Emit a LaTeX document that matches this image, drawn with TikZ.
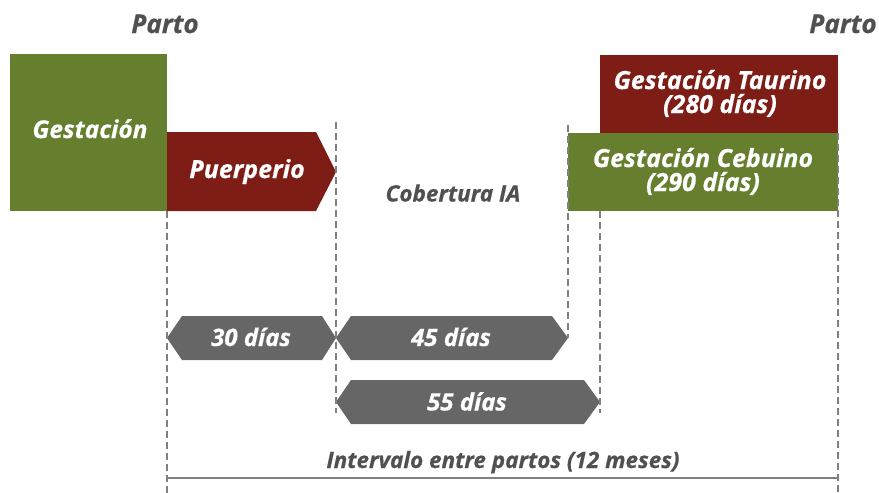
\documentclass[tikz,border=0pt]{standalone}
\usepackage{fontspec}
\setmainfont{Open Sans}[BoldItalicFeatures={FakeBold=0.6}]
\definecolor{cgreen}{HTML}{667F2F}
\definecolor{cred}{HTML}{7E1C16}
\definecolor{cgray}{HTML}{666666}
\definecolor{ctext}{HTML}{505050}
\definecolor{cline}{HTML}{808080}
\tikzset{
  lbl/.style={font=\bfseries\itshape\fontsize{#1}{24}\selectfont, inner sep=0pt, align=center, anchor=base},
  wlbl/.style={lbl=#1, text=white},
  glbl/.style={lbl=#1, text=ctext},
  guide/.style={draw=cline, line width=1.3pt, dash pattern=on 7pt off 4pt},
}
\begin{document}
\begin{tikzpicture}[x=1pt,y=-1pt]
\useasboundingbox (0,0) rectangle (879,493);
% boxes
\fill[cgreen] (10,54) rectangle (167,211);
\fill[cred] (167,132) -- (316,132) -- (336,172) -- (316,211) -- (167,211) -- cycle;
\fill[cred] (600,55) rectangle (838,133);
\fill[cgreen] (568,133) rectangle (838,211);
% hexagons
\fill[cgray] (167,338) -- (182,316) -- (322,316) -- (336,338) -- (322,360) -- (182,360) -- cycle;
\fill[cgray] (336,338) -- (351,316) -- (552,316) -- (568,338) -- (552,360) -- (351,360) -- cycle;
\fill[cgray] (336,402) -- (351,380) -- (584,380) -- (600,402) -- (584,424) -- (351,424) -- cycle;
% guide coordinates
\coordinate (g1t) at (167,211); \coordinate (g1b) at (167,493);
\coordinate (g2t) at (336,122); \coordinate (g2b) at (336,413);
\coordinate (g3t) at (568,125); \coordinate (g3b) at (568,338);
\coordinate (g4t) at (600,211); \coordinate (g4b) at (600,413);
\coordinate (g5t) at (838,133); \coordinate (g5b) at (838,493);
\draw[guide] (g1t) -- (g1b);
\draw[guide] (g2t) -- (g2b);
\draw[guide] (g3t) -- (g3b);
\draw[guide] (g4t) -- (g4b);
\draw[guide] (g5t) -- (g5b);
% interval line
\coordinate (il) at (167,478); \coordinate (ir) at (838,478);
\draw[cline, line width=1.5pt] (il) -- (ir);
% labels
\node[glbl=26] (parto1) at (165,33) {Parto};
\node[glbl=26] (parto2) at (843,33) {Parto};
\node[wlbl=24.5] (gest) at (90,138) {Gestación};
\node[wlbl=25] (puer) at (247,178) {Puerperio};
\node[wlbl=25] (taur) at (720,113) {Gestación Taurino\\(280 días)};
\node[wlbl=25] (cebu) at (703,191) {Gestación Cebuino\\(290 días)};
\node[glbl=22.5] (cob) at (453,201.5) {Cobertura IA};
\node[wlbl=24] (d30) at (251,346) {30 días};
\node[wlbl=24] (d45) at (451,346) {45 días};
\node[wlbl=24] (d55) at (467,410.5) {55 días};
\node[glbl=22.5] (int) at (503,468) {Intervalo entre partos (12 meses)};
\end{tikzpicture}
\end{document}
